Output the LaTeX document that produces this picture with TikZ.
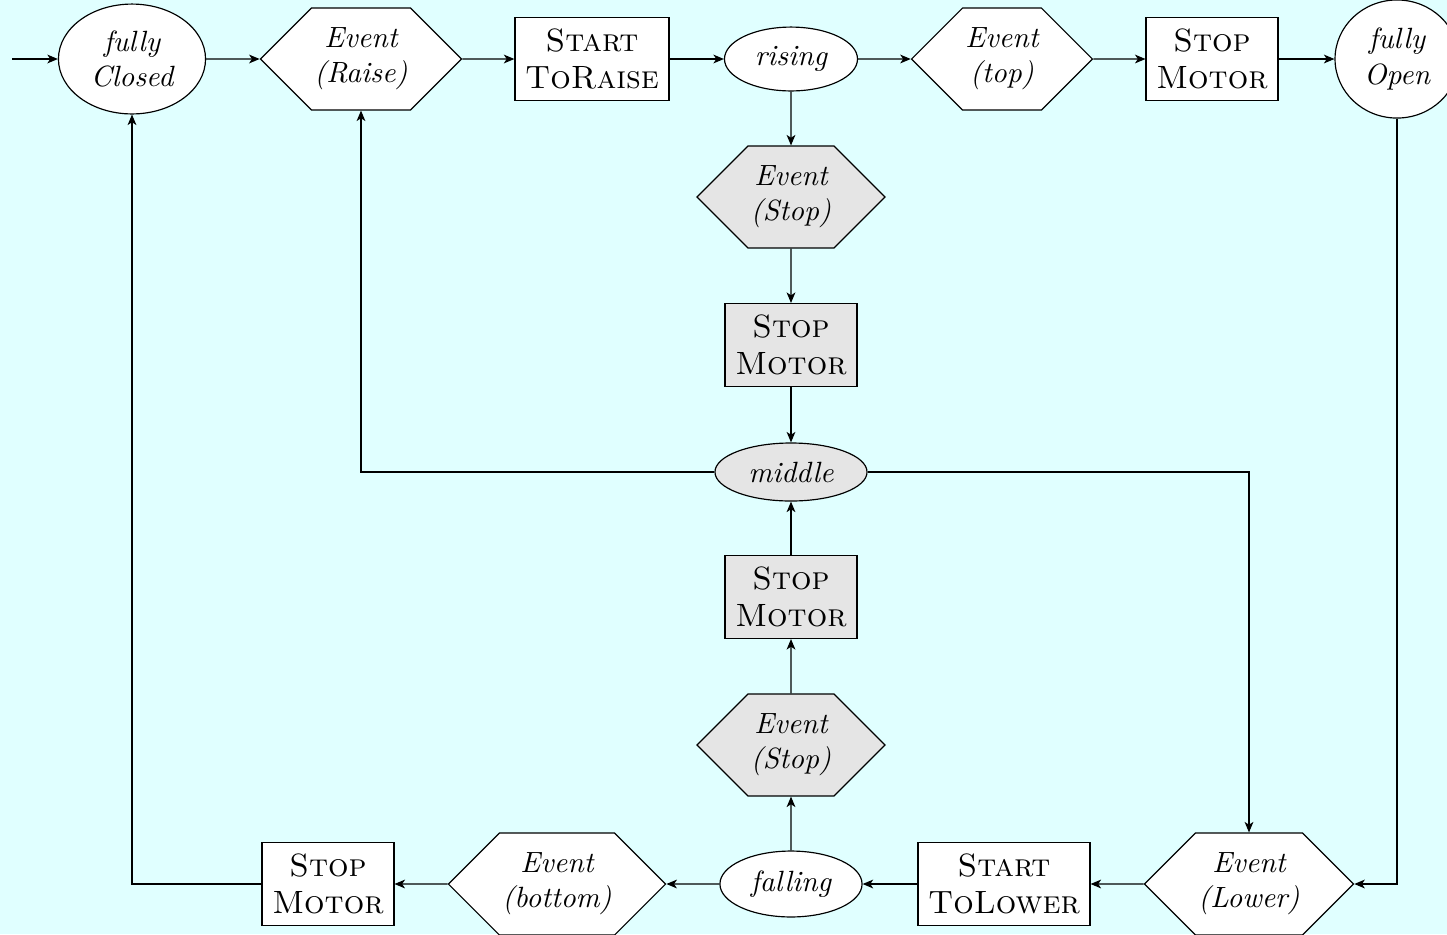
\documentclass[tikz,border=0pt]{standalone}
\usetikzlibrary{shapes.geometric,shapes.symbols,arrows.meta}
\definecolor{bgcyan}{HTML}{E0FFFF}
\begin{document}
\begin{tikzpicture}[x=0.3413pt,y=-0.3413pt,
  >={Stealth[length=3.6pt,width=3pt,inset=1pt]},
  box/.style={draw,align=center,inner sep=1pt,fill=white},
  st/.style={box,ellipse,font=\itshape},
  ev/.style={box,signal,signal to=east and west,signal pointer angle=90,font=\itshape,minimum height=34.8pt},
  act/.style={box,rectangle,font=\fontsize{11}{12.8}\selectfont\scshape,minimum height=28.3pt},
  gr/.style={fill=gray!20},
  conn/.style={->}]
\useasboundingbox (0,0) rectangle (1447,934);
\fill[bgcyan] (0,0) rectangle (1447,934);
% top row
\node[st,minimum width=50.2pt,minimum height=37.5pt] (closed) at (132,59) {fully\\Closed};
\node[ev,minimum width=67.6pt] (raise) at (361,59) {Event\\(Raise)};
\node[act,minimum width=52.6pt] (str) at (592,59) {Start\\ToRaise};
\node[st,minimum width=45.4pt,minimum height=21.8pt] (rising) at (791,59) {rising};
\node[ev,minimum width=60.8pt] (top) at (1002,59) {Event\\(top)};
\node[act,minimum width=45pt] (stop1) at (1212,59) {Stop\\Motor};
\node[st,minimum width=42.3pt,minimum height=40.3pt] (open) at (1397,59) {fully\\Open};
% middle column
\node[ev,gr,minimum width=63.5pt] (evs1) at (791,197) {Event\\(Stop)};
\node[act,gr,minimum width=45pt] (stop2) at (791,345) {Stop\\Motor};
\node[st,gr,minimum width=51.9pt,minimum height=19.8pt] (middle) at (791,472) {middle};
\node[act,gr,minimum width=45pt] (stop3) at (791,597) {Stop\\Motor};
\node[ev,gr,minimum width=63.5pt] (evs2) at (791,745) {Event\\(Stop)};
% bottom row
\node[st,minimum width=48.5pt,minimum height=22.5pt] (falling) at (791,884) {falling};
\node[act,minimum width=58.7pt] (stl) at (1004,884) {Start\\ToLower};
\node[ev,minimum width=70pt] (lower) at (1249,884) {Event\\(Lower)};
\node[ev,minimum width=73pt] (bottom) at (557,884) {Event\\(bottom)};
\node[act,minimum width=45pt] (stop4) at (328,884) {Stop\\Motor};
\coordinate (in) at (12,59);
% connectors
\draw[conn] (in) -- (closed);
\draw[conn] (closed) -- (raise);
\draw[conn] (raise) -- (str);
\draw[conn] (str) -- (rising);
\draw[conn] (rising) -- (top);
\draw[conn] (top) -- (stop1);
\draw[conn] (stop1) -- (open);
\draw[conn] (rising) -- (evs1);
\draw[conn] (evs1) -- (stop2);
\draw[conn] (stop2) -- (middle);
\draw[conn] (middle.west) -| (raise.south);
\draw[conn] (middle.east) -| (lower.north);
\draw[conn] (open.south) |- (lower.east);
\draw[conn] (lower) -- (stl);
\draw[conn] (stl) -- (falling);
\draw[conn] (falling) -- (bottom);
\draw[conn] (bottom) -- (stop4);
\draw[conn] (stop4.west) -| (closed.south);
\draw[conn] (falling) -- (evs2);
\draw[conn] (evs2) -- (stop3);
\draw[conn] (stop3) -- (middle);
\end{tikzpicture}
\end{document}
